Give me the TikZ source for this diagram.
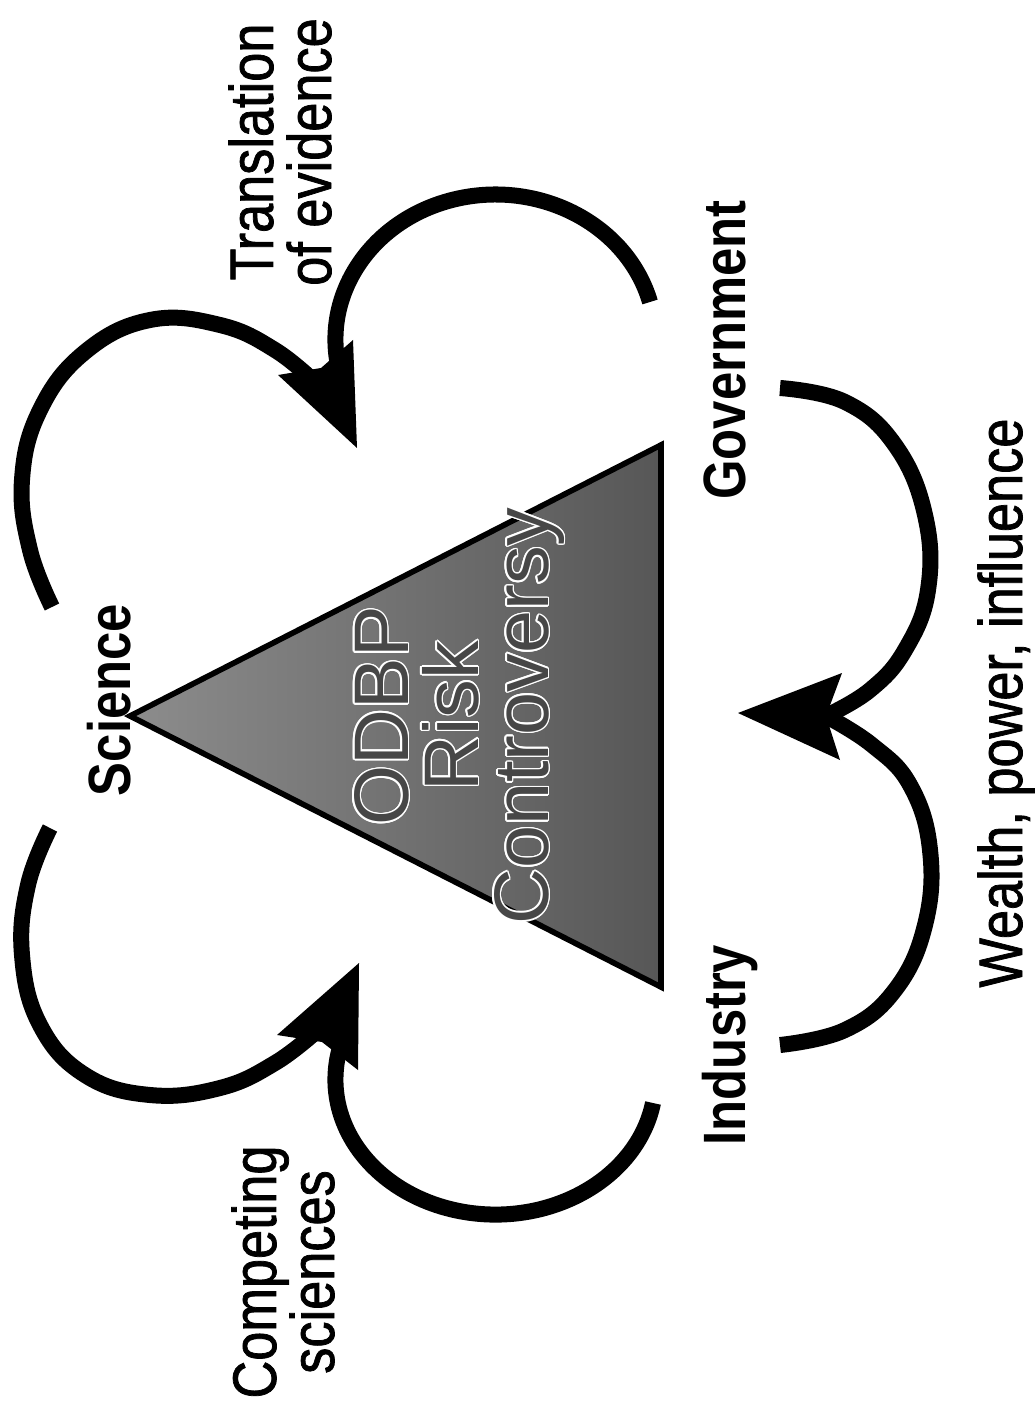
\documentclass[tikz,border=0pt]{standalone}
\usepackage{fontspec}
\setmainfont{Liberation Sans}[FakeStretch=0.85]
\newfontfamily\labelfont{Liberation Sans}[FakeStretch=0.85, FakeBold=1.2]
\newfontfamily\centrefont{Liberation Sans}
\usepackage{contour}
\contourlength{0.45pt}
\usetikzlibrary{positioning}

\tikzset{
  arcline/.style={line width=0.16cm},
  headfill/.style={fill=black},
  actor/.style={font=\fontsize{17}{17}\selectfont\bfseries, rotate=90, anchor=base},
  remark/.style={font=\labelfont\fontsize{17.5}{16.5}\selectfont, rotate=90, align=center},
  centre/.style={font=\centrefont\fontsize{22}{19.9}\selectfont, text=black!72, rotate=90, align=center}
}

\begin{document}
\begin{tikzpicture}[x=0.01cm, y=-0.01cm]
			\useasboundingbox (0,0) rectangle (1034,1401);

			% Triangle
			\coordinate (sci) at (130,716);
			\coordinate (gov) at (661,445);
			\coordinate (ind) at (661,987);
			\shade[left color=black!45, right color=black!66] (sci) -- (gov) -- (ind) -- cycle;
			\draw[line width=1.6pt, line join=miter] (sci) -- (gov) -- (ind) -- cycle;
			\node[centre] (odbp) at (460,716) {\contour{white}{ODBP}\\\contour{white}{Risk}\\\contour{white}{Controversy}};

			% Labels
			\node[actor] (science) at (130,700) {Science};
			\node[actor] (government) at (745,350) {Government};
			\node[actor] (industry) at (745,1045) {Industry};
			\node[remark] (translation) at (280,152) {Translation\\of evidence};
			\node[remark] (competing) at (283,1272) {Competing\\sciences};
			\node[remark, anchor=base] (wealth) at (1022,703) {Wealth, power, influence};

			% Arrow heads
			\coordinate (tipA) at (357,448);
			\coordinate (notchA) at (321,368);
			\coordinate (tipB) at (738,713);
			\coordinate (notchB) at (826,716);
			\coordinate (tipC) at (359,963);
			\coordinate (notchC) at (322,1042);
			\fill[headfill] (tipA) -- (278,375) -- (notchA) -- (353,340) -- cycle;
			\fill[headfill] (tipB) -- (842,673) -- (notchB) -- (840,760) -- cycle;
			\fill[headfill] (tipC) -- (277,1035) -- (notchC) -- (358,1070) -- cycle;

			% Loops
			\coordinate (aL) at (52,607);
			\coordinate (aR) at (650,302);
			\coordinate (bU) at (780,388);
			\coordinate (bL) at (780,1045);
			\coordinate (cL) at (50,828);
			\coordinate (cR) at (653,1103);
			\draw[arcline] plot[smooth, tension=0.7] coordinates {(aL) (30,550) (22,480) (40,410) (85,352) (150,320) (220,325) (275,350) (318,385)};
			\draw[arcline] (aR) arc[start angle=-15, end angle=-190, x radius=160, y radius=145];
			\draw[arcline] plot[smooth, tension=0.7] coordinates {(bU) (845,402) (895,445) (925,515) (928,590) (905,650) (870,690) (notchB)};
			\draw[arcline] plot[smooth, tension=0.7] coordinates {(bL) (845,1030) (895,990) (925,925) (930,850) (910,785) (872,745) (notchB)};
			\draw[arcline] plot[smooth, tension=0.7] coordinates {(cL) (28,885) (22,955) (40,1025) (85,1075) (150,1095) (220,1088) (275,1063) (318,1030)};
			\draw[arcline] (cR) arc[start angle=10, end angle=193, x radius=160, y radius=135];
		\end{tikzpicture}
\end{document}
